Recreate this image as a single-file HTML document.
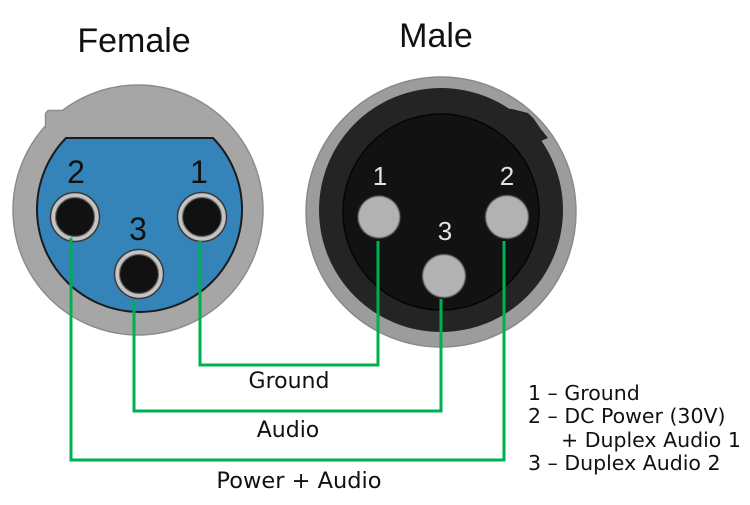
<!DOCTYPE html>
<html>
<head>
<meta charset="utf-8">
<style>
  html, body { margin: 0; padding: 0; background: #ffffff; }
  body { width: 750px; height: 505px; overflow: hidden; }
  svg { display: block; }
  .lbl { font-family: "DejaVu Sans", "Liberation Sans", sans-serif; font-size: 22px; fill: #111; }
  .leg { font-family: "DejaVu Sans", "Liberation Sans", sans-serif; font-size: 20.5px; fill: #111; }
  .ttl { font-family: "Liberation Sans", sans-serif; font-size: 34px; fill: #111; }
  .pinF { font-family: "Liberation Sans", sans-serif; font-size: 32px; fill: #111; }
  .pinM { font-family: "Liberation Sans", sans-serif; font-size: 26px; fill: #e2e2e2; }
</style>
</head>
<body>
<svg width="750" height="505" viewBox="0 0 750 505" xmlns="http://www.w3.org/2000/svg">
  <defs>
    <filter id="soft" x="-20%" y="-20%" width="140%" height="140%">
      <feGaussianBlur stdDeviation="0.8"/>
    </filter>
  </defs>

  <!-- Titles -->
  <text class="ttl" x="134" y="52" text-anchor="middle">Female</text>
  <text class="ttl" x="436" y="47" text-anchor="middle">Male</text>

  <!-- FEMALE CONNECTOR -->
  <circle cx="138" cy="210" r="125" fill="#a6a6a6" stroke="#8c8c8c" stroke-width="1.5"/>
  <!-- tab -->
  <polygon points="45.5,128 45.5,113 48,110.5 66,110 70,130" fill="#a6a6a6"/>
  <polyline points="45.5,128 45.5,113.5 48,110.5 64,110.5" fill="none" stroke="#8c8c8c" stroke-width="1.5"/>
  <!-- blue insert: circle with flat top chord -->
  <path d="M66 138 L213 138 A102.5 102.5 0 1 1 66 138 Z" fill="#3584b9" stroke="#1b1b1b" stroke-width="2"/>
  <!-- female pins -->
  <g>
    <circle cx="75" cy="217" r="24.5" fill="#c4c4c4" stroke="#3a3a3a" stroke-width="1.5"/>
    <circle cx="75" cy="217" r="19.5" fill="#111" stroke="#6a6a6a" stroke-width="1.2"/>
    <circle cx="202" cy="217" r="24.5" fill="#c4c4c4" stroke="#3a3a3a" stroke-width="1.5"/>
    <circle cx="202" cy="217" r="19.5" fill="#111" stroke="#6a6a6a" stroke-width="1.2"/>
    <circle cx="139" cy="274" r="24.5" fill="#c4c4c4" stroke="#3a3a3a" stroke-width="1.5"/>
    <circle cx="139" cy="274" r="19.5" fill="#111" stroke="#6a6a6a" stroke-width="1.2"/>
  </g>
  <text class="pinF" x="76" y="183" text-anchor="middle">2</text>
  <text class="pinF" x="199" y="183" text-anchor="middle">1</text>
  <text class="pinF" x="138" y="240" text-anchor="middle">3</text>

  <!-- MALE CONNECTOR -->
  <circle cx="441" cy="212" r="135" fill="#9c9c9c" stroke="#8a8a8a" stroke-width="1.5"/>
  <circle cx="441" cy="210" r="122" fill="#242424"/>
  <!-- key notch -->
  <polygon points="500,108 512,109 528,113 534,119 540,128 548,138 520,150 495,125" fill="#242424"/>
  <circle cx="441" cy="212" r="98" fill="#121212" stroke="#050505" stroke-width="1.5"/>
  <!-- male pins -->
  <g filter="url(#soft)">
    <circle cx="379" cy="217" r="21" fill="#b2b2b2"/>
    <circle cx="507" cy="217" r="21.5" fill="#b2b2b2"/>
    <circle cx="444" cy="276" r="21.5" fill="#b2b2b2"/>
  </g>
  <text class="pinM" x="380" y="185" text-anchor="middle">1</text>
  <text class="pinM" x="507" y="185" text-anchor="middle">2</text>
  <text class="pinM" x="445" y="240" text-anchor="middle">3</text>

  <!-- GREEN WIRES -->
  <g fill="none" stroke="#00b050" stroke-width="3" stroke-linejoin="miter">
    <polyline points="200,241 200,365 378,365 378,241"/>
    <polyline points="134,299 134,411 441,411 441,299"/>
    <polyline points="71,238 71,460 504,460 504,241"/>
  </g>

  <!-- Wire labels -->
  <text class="lbl" x="289" y="388" text-anchor="middle">Ground</text>
  <text class="lbl" x="288" y="437" text-anchor="middle">Audio</text>
  <text class="lbl" x="299" y="488" text-anchor="middle" style="font-size:22.5px">Power + Audio</text>

  <!-- Legend -->
  <text class="leg" x="528" y="400">1 – Ground</text>
  <text class="leg" x="528" y="423">2 – DC Power (30V)</text>
  <text class="leg" x="561" y="447">+ Duplex Audio 1</text>
  <text class="leg" x="528" y="470">3 – Duplex Audio 2</text>
</svg>
</body>
</html>
